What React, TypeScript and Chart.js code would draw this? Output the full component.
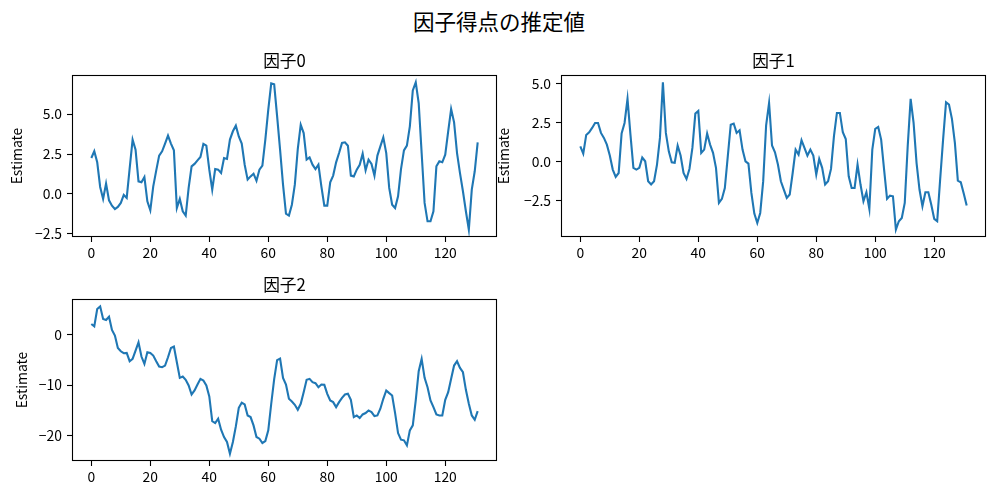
import { useEffect, useRef } from 'react';
import { Chart, registerables } from 'chart.js';
import type { ChartConfiguration, Plugin } from 'chart.js';

Chart.register(...registerables);

const FONT = '"Noto Sans CJK JP", "Noto Sans", sans-serif';

// shared x ticks
const xTicks = [0, 20, 40, 60, 80, 100, 120];

// estimated factor scores
const factor0 = [
  2.25, 2.67, 1.98, 0.44, -0.31, 0.65, -0.4, -0.73, -0.94, -0.81,
  -0.56, -0.06, -0.25, 1.6, 3.4, 2.77, 0.79, 0.73, 1.06, -0.46,
  -1.02, 0.48, 1.46, 2.4, 2.67, 3.15, 3.65, 3.15, 2.73, -0.88,
  -0.31, -1.08, -1.35, 0.38, 1.73, 1.88, 2.1, 2.31, 3.13, 3.02,
  1.52, 0.27, 1.56, 1.52, 1.31, 2.25, 2.19, 3.4, 3.92, 4.27,
  3.6, 3.15, 1.83, 0.9, 1.1, 1.27, 0.83, 1.52, 1.77, 3.4,
  5.27, 6.92, 6.86, 4.85, 2.77, 0.58, -1.23, -1.35, -0.67, 0.58,
  2.81, 4.33, 3.81, 2.15, 2.29, 1.83, 1.56, 1.83, 0.48, -0.73,
  -0.73, 0.73, 1.15, 1.98, 2.56, 3.19, 3.23, 3.02, 1.15, 1.1,
  1.52, 1.83, 2.52, 1.48, 2.15, 1.88, 1.15, 2.4, 2.98, 3.54,
  2.56, 0.38, -0.67, -0.88, -0.15, 1.56, 2.73, 3.02, 4.23, 6.48,
  6.98, 5.69, 2.56, -0.56, -1.71, -1.71, -1.08, 1.73, 2.04, 1.98,
  2.46, 3.92, 5.31, 4.48, 2.56, 1.31, 0.17, -1.08, -2.23, 0.27,
  1.42, 3.23,
];

const factor1 = [
  1.0, 0.53, 1.73, 1.9, 2.18, 2.5, 2.5, 1.86, 1.54, 1.11,
  0.41, -0.49, -0.96, -0.71, 1.82, 2.5, 4.04, 1.75, -0.38, -0.49,
  -0.38, 0.28, 0.04, -1.24, -1.45, -1.24, -0.17, 1.54, 5.1, 1.86,
  0.68, -0.02, -0.06, 1.05, 0.41, -0.71, -1.09, -0.45, 0.9, 3.1,
  3.27, 0.58, 0.79, 1.82, 1.11, 0.58, -0.38, -2.63, -2.37, -1.67,
  0.36, 2.39, 2.46, 1.86, 2.03, 0.79, 0.04, -0.11, -1.99, -3.31,
  -3.91, -3.27, -1.25, 2.35, 3.78, 1.05, 0.62, -0.17, -1.24, -1.77,
  -2.31, -2.09, -0.71, 0.79, 0.47, 1.39, 0.9, 0.41, 0.79, 0.41,
  -0.81, 0.19, -0.38, -1.45, -1.24, -0.45, 1.65, 3.14, 3.14, 1.9,
  1.47, -0.92, -1.67, -1.67, -0.17, -1.45, -2.52, -1.94, -3.01, 0.79,
  2.12, 2.24, 1.43, -0.49, -2.37, -2.16, -2.2, -4.34, -3.8, -3.59,
  -2.63, 1.0, 4.04, 2.5, -0.06, -1.77, -2.84, -1.94, -1.94, -2.74,
  -3.65, -3.8, -1.13, 1.43, 3.82, 3.68, 2.76, 1.22, -1.2, -1.3,
  -2.03, -2.8,
];

const factor2 = [
  2.19, 1.72, 5.17, 5.7, 3.18, 2.98, 3.64, 0.99, -0.13, -2.58,
  -3.25, -3.64, -3.58, -5.23, -4.77, -3.11, -1.46, -4.3, -5.76, -3.44,
  -3.58, -4.1, -5.23, -6.29, -6.42, -6.09, -4.44, -2.58, -2.32, -5.43,
  -8.54, -8.28, -8.94, -10.07, -11.85, -11.06, -9.87, -8.74, -9.07, -10.07,
  -12.25, -17.15, -17.55, -16.69, -18.87, -20.33, -21.32, -23.64, -21.32, -18.21,
  -14.5, -13.51, -13.84, -16.03, -16.36, -18.01, -20.33, -20.66, -21.52, -21.13,
  -19.0, -13.7, -8.8, -5.0, -4.7, -8.54, -9.87, -12.72, -13.25, -13.91,
  -14.9, -13.71, -11.39, -8.94, -8.74, -9.4, -9.6, -10.4, -9.87, -9.93,
  -11.72, -13.05, -13.38, -14.37, -13.38, -12.52, -11.85, -11.72, -12.91, -16.36,
  -16.03, -16.56, -15.83, -15.56, -15.03, -15.36, -16.16, -16.03, -14.7, -12.72,
  -11.06, -11.59, -12.05, -15.56, -19.54, -20.86, -20.99, -21.99, -19.0, -18.01,
  -13.05, -7.22, -4.77, -8.54, -10.4, -13.05, -14.37, -15.83, -16.03, -16.03,
  -12.91, -11.39, -8.74, -6.09, -5.23, -6.56, -7.42, -10.93, -13.71, -16.03,
  -16.89, -15.17,
];

const yTicks0 = [-2.5, 0, 2.5, 5.0];
const yTicks1 = [-2.5, 0, 2.5, 5.0];
const yTicks2 = [-20, -10, 0];

const titles = ['因子0', '因子1', '因子2'];
const suptitle = '因子得点の推定値';
const yLabel = 'Estimate';

// canvas box around each plot area
const LEFT = 72;
const TOP = 40;
const RIGHT = 6;
const BOTTOM = 30;
const PLOT_W = 425;
const PLOT_H = 162;

interface PlotProps {
  values: number[];
  yTicks: number[];
  decimals: number;
  title: string;
  left: number; // plot-area left in page px
  top: number; // plot-area top in page px
  labelOffset: number;
}

const fmt = (v: number, d: number) => v.toFixed(d).replace('-', '\u2212');

function FactorPlot({ values, yTicks, decimals, title, left, top, labelOffset }: PlotProps) {
  const canvasRef = useRef<HTMLCanvasElement>(null);

  useEffect(() => {
    if (!canvasRef.current) return;

    const n = values.length - 1;
    const xPad = n * 0.05;
    const lo = Math.min(...values);
    const hi = Math.max(...values);
    const yPad = (hi - lo) * 0.05;

    // frame, subplot title and y label like matplotlib
    const decor: Plugin<'line'> = {
      id: 'decor',
      afterDraw(chart) {
        const { ctx, chartArea: a } = chart;
        ctx.save();
        ctx.strokeStyle = '#000';
        ctx.lineWidth = 1.1;
        ctx.strokeRect(a.left + 0.5, a.top + 0.5, a.right - a.left - 1, a.bottom - a.top - 1);

        ctx.fillStyle = '#000';
        ctx.font = `16.7px ${FONT}`;
        ctx.textAlign = 'center';
        ctx.textBaseline = 'alphabetic';
        ctx.fillText(title, (a.left + a.right) / 2, a.top - 8.3);

        ctx.font = `13.9px ${FONT}`;
        ctx.translate(a.left - labelOffset, (a.top + a.bottom) / 2);
        ctx.rotate(-Math.PI / 2);
        ctx.textBaseline = 'middle';
        ctx.fillText(yLabel, 0, 0);
        ctx.restore();
      },
    };

    const tickFont = { family: FONT, size: 13.9 };
    const grid = {
      display: true,
      drawOnChartArea: false,
      drawTicks: true,
      tickLength: 5,
      tickWidth: 1.1,
      tickColor: '#000',
    };

    const config: ChartConfiguration<'line'> = {
      type: 'line',
      data: {
        datasets: [
          {
            data: values.map((v, i) => ({ x: i, y: v })),
            borderColor: '#1f77b4',
            borderWidth: 2.1,
            pointRadius: 0,
            tension: 0,
            fill: false,
          },
        ],
      },
      options: {
        animation: false,
        responsive: false,
        maintainAspectRatio: false,
        events: [],
        layout: { padding: { top: TOP, right: RIGHT, left: 0, bottom: 0 } },
        plugins: {
          legend: { display: false },
          tooltip: { enabled: false },
          title: { display: false },
        },
        scales: {
          x: {
            type: 'linear',
            min: -xPad,
            max: n + xPad,
            afterBuildTicks: (s) => {
              s.ticks = xTicks.map((v) => ({ value: v }));
            },
            afterFit: (s) => {
              s.height = BOTTOM;
            },
            grid,
            border: { display: false },
            ticks: {
              color: '#000',
              font: tickFont,
              padding: 2,
              maxRotation: 0,
              autoSkip: false,
              callback: (v) => String(v),
            },
          },
          y: {
            type: 'linear',
            min: lo - yPad,
            max: hi + yPad,
            afterBuildTicks: (s) => {
              s.ticks = yTicks.map((v) => ({ value: v }));
            },
            afterFit: (s) => {
              s.width = LEFT;
            },
            grid,
            border: { display: false },
            ticks: {
              color: '#000',
              font: tickFont,
              padding: 5,
              autoSkip: false,
              callback: (v) => fmt(Number(v), decimals),
            },
          },
        },
      },
      plugins: [decor],
    };

    const chart = new Chart(canvasRef.current, config);
    return () => chart.destroy();
  }, [values, yTicks, decimals, title, labelOffset]);

  return (
    <canvas
      ref={canvasRef}
      width={LEFT + PLOT_W + RIGHT}
      height={TOP + PLOT_H + BOTTOM}
      style={{ position: 'absolute', left: left - LEFT, top: top - TOP, display: 'block' }}
    />
  );
}

export default function App() {
  return (
    <div
      style={{
        position: 'absolute',
        left: 0,
        top: 0,
        width: 994,
        height: 495,
        overflow: 'hidden',
        background: '#fff',
        fontFamily: FONT,
      }}
    >
      <div
        style={{
          position: 'absolute',
          left: 2,
          top: 6,
          width: 994,
          height: 30,
          lineHeight: '30px',
          fontSize: 21.5,
          textAlign: 'center',
          color: '#000',
        }}
      >
        {suptitle}
      </div>
      <FactorPlot values={factor0} yTicks={yTicks0} decimals={1} title={titles[0]} left={72} top={75} labelOffset={55.6} />
      <FactorPlot values={factor1} yTicks={yTicks1} decimals={1} title={titles[1]} left={561} top={75} labelOffset={57} />
      <FactorPlot values={factor2} yTicks={yTicks2} decimals={0} title={titles[2]} left={72} top={299} labelOffset={50.6} />
    </div>
  );
}
